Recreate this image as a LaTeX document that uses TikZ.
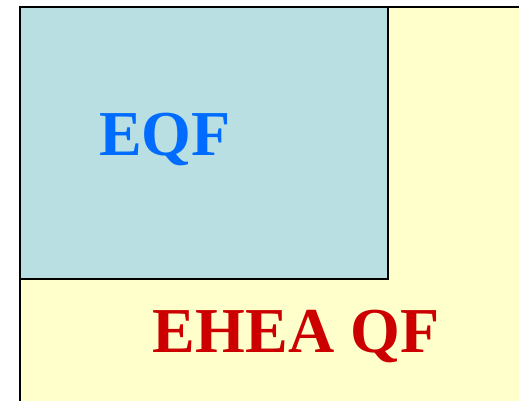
\documentclass[tikz,border=0pt]{standalone}
\usepackage{fontspec}
\setmainfont{Liberation Serif}
\definecolor{paleyellow}{RGB}{255,255,204}
\definecolor{paleblue}{RGB}{185,223,227}
\definecolor{eqfblue}{RGB}{0,108,255}
\definecolor{eheared}{RGB}{204,0,0}
\begin{document}
\begin{tikzpicture}[x=1pt,y=-1pt,
  frame/.style={draw=black,line width=1.4pt},
  label/.style={font=\bfseries\fontsize{64}{64}\selectfont,inner sep=0pt,anchor=base}]
\useasboundingbox (0,0) rectangle (519,400);
% outer EHEA QF area, running off the right and bottom edges
\fill[paleyellow] (20,7) rectangle (521,402);
\draw[frame] (20,402) -- (20,7) -- (521,7);
% inner EQF box
\draw[frame,fill=paleblue] (20,7) rectangle (388,279);
\node[label,text=eqfblue] (eqf) at (165,155) {EQF};
\node[label,text=eheared] (ehea) at (296,352) {EHEA QF};
\end{tikzpicture}
\end{document}
